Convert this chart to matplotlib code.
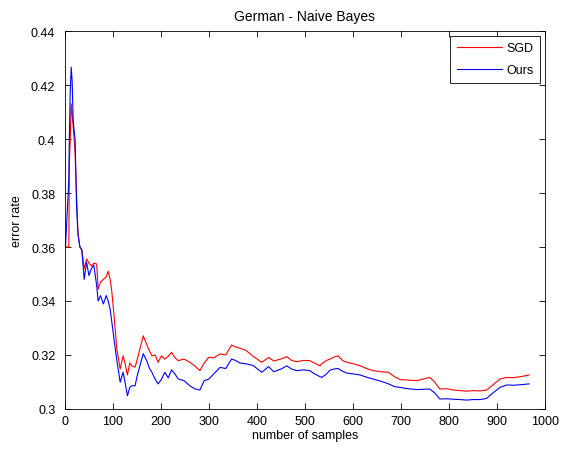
import matplotlib
matplotlib.use("Agg")
import matplotlib.pyplot as plt

samples = [1, 8, 9, 11, 13, 15, 17, 19, 21, 24, 27, 31, 35, 40, 45, 50, 55, 60, 66, 69,
           74, 80, 86, 90, 94, 97, 102, 108, 115, 121, 125, 130, 135, 139, 146, 150, 156,
           163, 170, 176, 181, 188, 194, 201, 208, 215, 222, 229, 236, 248, 260, 270, 281,
           290, 299, 310, 323, 335, 347, 355, 365, 378, 392, 410, 424, 435, 450, 462, 472,
           483, 497, 510, 520, 531, 535, 545, 552, 560, 569, 578, 587, 600, 615, 628, 642,
           658, 674, 686, 698, 715, 733, 748, 760, 770, 781, 796, 810, 823, 837, 850, 865,
           878, 892, 906, 920, 934, 950, 967]

sgd = [0.36, 0.36, 0.3914, 0.40, 0.413, 0.4087, 0.405, 0.40, 0.395, 0.38, 0.365, 0.36,
       0.359, 0.352, 0.3556, 0.354, 0.353, 0.354, 0.3537, 0.3444, 0.347, 0.348, 0.349,
       0.351, 0.348, 0.3444, 0.335, 0.3222, 0.3148, 0.3197, 0.317, 0.3126, 0.317, 0.316,
       0.3155, 0.318, 0.3222, 0.3271, 0.324, 0.3215, 0.3197, 0.320, 0.3173, 0.3197, 0.3185,
       0.3195, 0.321, 0.319, 0.3179, 0.3185, 0.3173, 0.316, 0.3142, 0.317, 0.3191, 0.319,
       0.3204, 0.320, 0.3237, 0.323, 0.3225, 0.3216, 0.3195, 0.3173, 0.3191, 0.3178, 0.3185,
       0.3194, 0.318, 0.3175, 0.318, 0.3179, 0.317, 0.316, 0.3168, 0.318, 0.3185, 0.3192,
       0.3197, 0.318, 0.3173, 0.3168, 0.316, 0.315, 0.3142, 0.3138, 0.3136, 0.312, 0.3109,
       0.3107, 0.3105, 0.3112, 0.3117, 0.310, 0.3074, 0.3075, 0.307, 0.3068, 0.3066, 0.3068,
       0.3067, 0.307, 0.309, 0.3111, 0.3117, 0.3116, 0.312, 0.3126]

ours = [0.36, 0.385, 0.40, 0.418, 0.4266, 0.421, 0.407, 0.403, 0.40, 0.3753, 0.3648, 0.36,
        0.359, 0.348, 0.3543, 0.3494, 0.352, 0.3533, 0.3457, 0.34, 0.342, 0.3389, 0.342,
        0.340, 0.337, 0.333, 0.326, 0.318, 0.3099, 0.3136, 0.310, 0.3049, 0.308, 0.3086,
        0.3086, 0.312, 0.316, 0.3205, 0.318, 0.315, 0.3136, 0.311, 0.3093, 0.311, 0.3136,
        0.3115, 0.3145, 0.313, 0.3111, 0.3105, 0.3086, 0.3075, 0.307, 0.3105, 0.311, 0.313,
        0.3154, 0.315, 0.3185, 0.318, 0.317, 0.3167, 0.3161, 0.3136, 0.3157, 0.3138, 0.3148,
        0.316, 0.3148, 0.3142, 0.3145, 0.3142, 0.313, 0.312, 0.3117, 0.313, 0.3144, 0.3148,
        0.315, 0.314, 0.3133, 0.313, 0.3126, 0.3118, 0.3111, 0.3103, 0.3093, 0.3083, 0.308,
        0.3075, 0.3072, 0.3073, 0.3074, 0.306, 0.3037, 0.3038, 0.3036, 0.3035, 0.3033,
        0.3035, 0.3035, 0.3039, 0.306, 0.308, 0.3089, 0.3088, 0.309, 0.3093]

xticks = [0, 100, 200, 300, 400, 500, 600, 700, 800, 900, 1000]
yticks = [0.30, 0.32, 0.34, 0.36, 0.38, 0.40, 0.42, 0.44]
ytick_labels = ["0.3", "0.32", "0.34", "0.36", "0.38", "0.4", "0.42", "0.44"]

plt.rcParams['font.family'] = ['Liberation Sans', 'DejaVu Sans']
fig = plt.figure(figsize=(5.65, 4.52), dpi=100)
ax = fig.add_axes([65/565, 42/452, 480/565, 378/452])
ax.plot(samples, sgd, color='#ff0000', lw=0.8, label='SGD')
ax.plot(samples, ours, color='#0000ff', lw=0.8, label='Ours')
ax.set_xlim(0, 1000)
ax.set_ylim(0.30, 0.44)
ax.set_xticks(xticks)
ax.set_xticklabels([str(t) for t in xticks])
ax.set_yticks(yticks)
ax.set_yticklabels(ytick_labels)
ax.tick_params(direction='in', top=True, right=True, labelsize=9, length=4, width=0.6)
ax.tick_params(axis='y', pad=7)
ax.tick_params(axis='x', pad=4)
for s in ax.spines.values():
    s.set_linewidth(0.6)
ax.set_xlabel('number of samples', fontsize=9, labelpad=2)
ax.set_ylabel('error rate', fontsize=9, labelpad=6)
ax.set_title('German - Naive Bayes', fontsize=10, pad=8)
leg = ax.legend(loc='upper right', fontsize=9, fancybox=False, edgecolor='black',
                framealpha=1, borderaxespad=0.4, handlelength=3.6, labelspacing=0.8,
                borderpad=0.5, handletextpad=0.4)
leg.get_frame().set_linewidth(0.6)
fig.savefig('out.png', dpi=100, facecolor='white')
